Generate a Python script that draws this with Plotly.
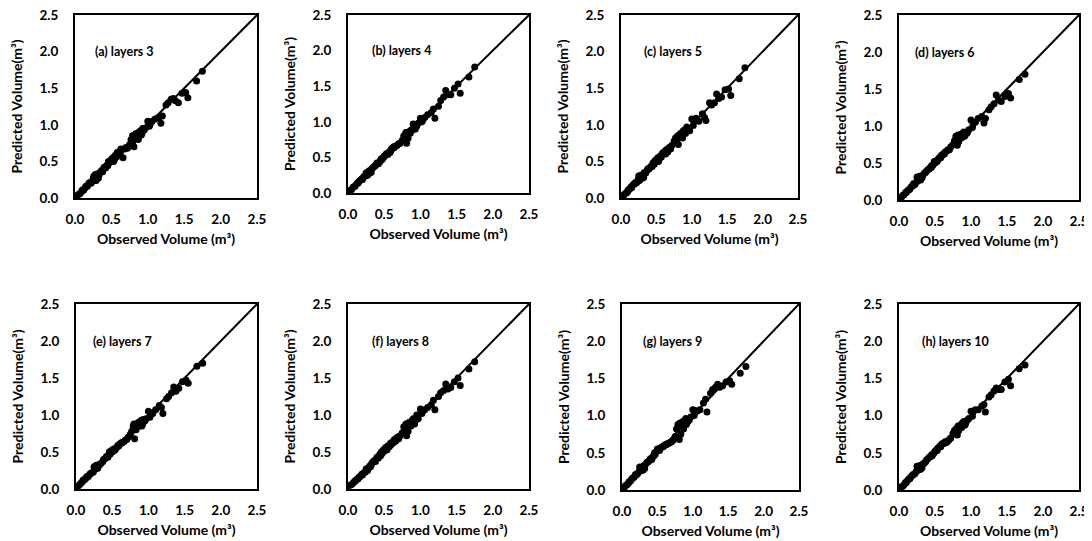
import plotly.graph_objects as go

# Observed volumes (m3), shared by all panels
observed = [0.03, 0.05, 0.07, 0.09, 0.10, 0.12, 0.14, 0.15, 0.17, 0.19,
            0.20, 0.22, 0.24, 0.25, 0.27, 0.28, 0.30, 0.31, 0.33, 0.35,
            0.37, 0.38, 0.40, 0.42, 0.44, 0.45, 0.47, 0.49, 0.50, 0.52,
            0.54, 0.55, 0.57, 0.59, 0.60, 0.62, 0.64, 0.66, 0.68, 0.70,
            0.72, 0.75, 0.77, 0.79, 0.80, 0.82, 0.84, 0.86, 0.88, 0.90,
            0.92, 0.95, 0.97, 1.00, 1.03, 1.06, 1.10, 1.15, 1.18, 1.20,
            1.25, 1.28, 1.32, 1.35, 1.38, 1.42, 1.47, 1.52, 1.55, 1.67,
            1.75, 0.26, 0.29, 0.32, 0.46, 0.53, 0.58, 0.63, 0.81, 0.83,
            0.87, 0.91, 0.93, 1.02]

pred_layers3 = [0.03, 0.05, 0.06, 0.09, 0.11, 0.11, 0.14, 0.16, 0.16, 0.20,
                0.21, 0.20, 0.23, 0.27, 0.24, 0.32, 0.29, 0.33, 0.31, 0.36,
                0.38, 0.36, 0.42, 0.41, 0.45, 0.44, 0.48, 0.50, 0.53, 0.55,
                0.52, 0.58, 0.56, 0.60, 0.63, 0.60, 0.66, 0.55, 0.67, 0.69,
                0.68, 0.73, 0.80, 0.85, 0.78, 0.86, 0.88, 0.84, 0.90, 0.92,
                0.88, 0.93, 0.96, 1.05, 1.00, 1.05, 1.08, 1.10, 1.02, 1.12,
                1.27, 1.30, 1.35, 1.36, 1.33, 1.30, 1.43, 1.44, 1.37, 1.60,
                1.73, 0.30, 0.24, 0.27, 0.50, 0.50, 0.62, 0.67, 0.70, 0.82,
                0.80, 0.86, 0.95, 0.98]

pred_layers4 = [0.04, 0.05, 0.08, 0.09, 0.10, 0.13, 0.14, 0.16, 0.18, 0.20,
                0.19, 0.23, 0.24, 0.28, 0.25, 0.30, 0.28, 0.32, 0.34, 0.36,
                0.38, 0.39, 0.42, 0.41, 0.44, 0.46, 0.47, 0.50, 0.52, 0.53,
                0.55, 0.54, 0.58, 0.59, 0.62, 0.63, 0.64, 0.66, 0.67, 0.69,
                0.70, 0.74, 0.80, 0.82, 0.85, 0.80, 0.86, 0.84, 0.88, 0.97,
                0.90, 0.94, 0.98, 1.05, 1.02, 1.06, 1.10, 1.13, 1.18, 1.05,
                1.22, 1.30, 1.35, 1.44, 1.38, 1.38, 1.47, 1.53, 1.40, 1.63,
                1.77, 0.27, 0.31, 0.29, 0.48, 0.55, 0.57, 0.65, 0.70, 0.77,
                0.88, 0.93, 0.90, 1.00]

pred_layers5 = [0.03, 0.05, 0.07, 0.08, 0.11, 0.12, 0.15, 0.14, 0.18, 0.19,
                0.21, 0.21, 0.25, 0.30, 0.26, 0.31, 0.27, 0.32, 0.35, 0.34,
                0.38, 0.40, 0.40, 0.43, 0.43, 0.47, 0.46, 0.52, 0.51, 0.55,
                0.53, 0.57, 0.56, 0.61, 0.62, 0.64, 0.66, 0.63, 0.69, 0.67,
                0.72, 0.78, 0.82, 0.80, 0.85, 0.84, 0.88, 0.86, 0.92, 0.93,
                0.90, 0.95, 0.92, 1.08, 1.05, 1.09, 1.05, 1.15, 1.10, 1.06,
                1.30, 1.27, 1.30, 1.42, 1.36, 1.38, 1.48, 1.49, 1.40, 1.63,
                1.78, 0.24, 0.30, 0.28, 0.49, 0.50, 0.60, 0.60, 0.73, 0.86,
                0.82, 0.88, 0.97, 0.99]

pred_layers6 = [0.03, 0.06, 0.07, 0.10, 0.10, 0.13, 0.14, 0.15, 0.18, 0.19,
                0.22, 0.21, 0.24, 0.31, 0.27, 0.29, 0.27, 0.32, 0.33, 0.36,
                0.37, 0.39, 0.41, 0.42, 0.45, 0.44, 0.47, 0.52, 0.50, 0.53,
                0.54, 0.56, 0.58, 0.60, 0.61, 0.62, 0.65, 0.66, 0.68, 0.68,
                0.72, 0.75, 0.80, 0.86, 0.82, 0.88, 0.86, 0.89, 0.90, 0.92,
                0.88, 0.91, 0.95, 1.08, 1.03, 1.05, 1.10, 1.13, 1.04, 1.10,
                1.22, 1.26, 1.30, 1.42, 1.35, 1.33, 1.40, 1.44, 1.38, 1.63,
                1.70, 0.26, 0.32, 0.30, 0.47, 0.52, 0.57, 0.62, 0.74, 0.79,
                0.84, 0.86, 0.90, 0.98]

pred_layers7 = [0.04, 0.06, 0.08, 0.10, 0.12, 0.13, 0.15, 0.17, 0.17, 0.20,
                0.21, 0.22, 0.23, 0.30, 0.27, 0.32, 0.28, 0.31, 0.33, 0.35,
                0.37, 0.40, 0.41, 0.44, 0.43, 0.46, 0.47, 0.52, 0.50, 0.54,
                0.53, 0.55, 0.57, 0.58, 0.60, 0.62, 0.63, 0.64, 0.66, 0.67,
                0.70, 0.74, 0.78, 0.85, 0.88, 0.83, 0.87, 0.90, 0.85, 0.93,
                0.88, 0.92, 0.95, 1.05, 1.03, 1.02, 1.07, 1.13, 1.10, 1.02,
                1.22, 1.25, 1.30, 1.38, 1.32, 1.36, 1.45, 1.47, 1.43, 1.66,
                1.70, 0.28, 0.30, 0.33, 0.50, 0.52, 0.59, 0.62, 0.68, 0.80,
                0.90, 0.85, 0.94, 0.97]

pred_layers8 = [0.05, 0.06, 0.08, 0.10, 0.11, 0.13, 0.14, 0.16, 0.17, 0.20,
                0.19, 0.22, 0.23, 0.27, 0.25, 0.28, 0.31, 0.30, 0.35, 0.37,
                0.39, 0.37, 0.43, 0.42, 0.47, 0.45, 0.48, 0.53, 0.51, 0.56,
                0.53, 0.58, 0.57, 0.62, 0.60, 0.64, 0.67, 0.65, 0.70, 0.68,
                0.72, 0.76, 0.84, 0.82, 0.88, 0.85, 0.90, 0.87, 0.92, 0.95,
                0.88, 1.00, 0.95, 1.08, 1.05, 1.07, 1.10, 1.14, 1.20, 1.07,
                1.25, 1.30, 1.33, 1.42, 1.35, 1.37, 1.45, 1.50, 1.40, 1.62,
                1.72, 0.26, 0.29, 0.32, 0.50, 0.55, 0.60, 0.63, 0.72, 0.78,
                0.85, 0.90, 0.93, 1.02]

pred_layers9 = [0.03, 0.06, 0.07, 0.09, 0.11, 0.12, 0.15, 0.16, 0.17, 0.21,
                0.20, 0.22, 0.25, 0.31, 0.26, 0.30, 0.27, 0.33, 0.34, 0.37,
                0.38, 0.39, 0.42, 0.41, 0.45, 0.46, 0.48, 0.52, 0.55, 0.54,
                0.56, 0.57, 0.58, 0.59, 0.60, 0.61, 0.62, 0.63, 0.64, 0.65,
                0.67, 0.72, 0.82, 0.88, 0.85, 0.90, 0.87, 0.92, 0.88, 0.96,
                0.93, 0.94, 0.98, 1.08, 1.07, 1.06, 1.08, 1.17, 1.22, 1.05,
                1.30, 1.35, 1.38, 1.42, 1.38, 1.40, 1.45, 1.47, 1.42, 1.57,
                1.66, 0.28, 0.31, 0.29, 0.50, 0.53, 0.58, 0.61, 0.68, 0.75,
                0.82, 0.88, 0.92, 1.00]

pred_layers10 = [0.04, 0.05, 0.07, 0.10, 0.10, 0.13, 0.15, 0.15, 0.18, 0.20,
                 0.21, 0.22, 0.25, 0.32, 0.27, 0.30, 0.28, 0.33, 0.35, 0.36,
                 0.38, 0.40, 0.42, 0.44, 0.45, 0.47, 0.48, 0.50, 0.52, 0.54,
                 0.56, 0.57, 0.59, 0.61, 0.62, 0.63, 0.65, 0.64, 0.66, 0.68,
                 0.70, 0.76, 0.80, 0.82, 0.78, 0.86, 0.84, 0.88, 0.90, 0.92,
                 0.88, 0.94, 0.96, 1.06, 1.05, 1.08, 1.08, 1.13, 1.15, 1.05,
                 1.25, 1.28, 1.33, 1.37, 1.35, 1.35, 1.45, 1.49, 1.40, 1.63,
                 1.68, 0.27, 0.33, 0.30, 0.46, 0.53, 0.58, 0.63, 0.74, 0.80,
                 0.84, 0.87, 0.91, 0.99]

panel_labels = ["(a) layers 3", "(b) layers 4", "(c) layers 5", "(d) layers 6",
                "(e) layers 7", "(f) layers 8", "(g) layers 9", "(h) layers 10"]
panel_preds = [pred_layers3, pred_layers4, pred_layers5, pred_layers6,
               pred_layers7, pred_layers8, pred_layers9, pred_layers10]

diag = [0.0, 2.5]
tick_vals = [0.0, 0.5, 1.0, 1.5, 2.0, 2.5]
tick_text = ["0.0", "0.5", "1.0", "1.5", "2.0", "2.5"]
x_title = "Observed Volume (m³)"
y_title = "Predicted Volume(m³)"

# The page body adds an 8px margin, so the figure is sized to fit the window
OFF = 8
W, H = 1092 - OFF, 541 - OFF
# plot boxes in window pixels: (left, right, top, bottom)
boxes = [(75, 257, 15, 198), (348, 529, 15, 193), (621, 798, 15, 198), (899, 1079, 15, 200),
         (76, 257, 304, 489), (348, 529, 304, 489), (622, 799, 304, 490), (899, 1079, 304, 490)]
label_x = [0.25, 0.30, 0.29, 0.19, 0.21, 0.30, 0.27, 0.29]

FONT = "Lato"
fig = go.Figure()
layout = dict(template="none", width=W, height=H, autosize=False,
              margin=dict(l=0, r=0, t=0, b=0, pad=0),
              paper_bgcolor="white", plot_bgcolor="white",
              showlegend=False, annotations=[])

for i, (lab, pred) in enumerate(zip(panel_labels, panel_preds)):
    n = i + 1
    xa = "x" if n == 1 else f"x{n}"
    ya = "y" if n == 1 else f"y{n}"
    fig.add_trace(go.Scatter(x=diag, y=diag, mode="lines",
                             line=dict(color="black", width=2),
                             xaxis=xa, yaxis=ya, hoverinfo="skip"))
    fig.add_trace(go.Scatter(x=observed, y=pred, mode="markers",
                             marker=dict(color="black", size=7, line=dict(width=0)),
                             xaxis=xa, yaxis=ya))
    l, r, t, b = [v - OFF for v in boxes[i]]
    axis_common = dict(range=[0, 2.5], tickvals=tick_vals, ticktext=tick_text,
                       showline=True, mirror=True, linecolor="black", linewidth=2,
                       showgrid=False, zeroline=False, ticks="outside",
                       tickcolor="rgba(0,0,0,0)", automargin=False,
                       ticklabeloverflow="allow",
                       tickfont=dict(family=FONT, size=13.5, color="black", weight="bold"))
    layout["xaxis" if n == 1 else f"xaxis{n}"] = dict(
        axis_common, domain=[l / W, r / W], anchor=ya, ticklen=8,
        title=dict(text=x_title, standoff=8,
                   font=dict(family=FONT, size=14, color="black", weight="bold")))
    layout["yaxis" if n == 1 else f"yaxis{n}"] = dict(
        axis_common, domain=[1 - b / H, 1 - t / H], anchor=xa, ticklen=12,
        title=dict(text=y_title, standoff=14,
                   font=dict(family=FONT, size=14, color="black", weight="bold")))
    layout["annotations"].append(dict(
        x=label_x[i], y=2.0, xref=xa, yref=ya, text=lab, showarrow=False,
        xanchor="left", yanchor="middle",
        font=dict(family=FONT, size=12.5, color="black", weight="bold")))

fig.update_layout(**layout)
fig.write_html("out.html")
